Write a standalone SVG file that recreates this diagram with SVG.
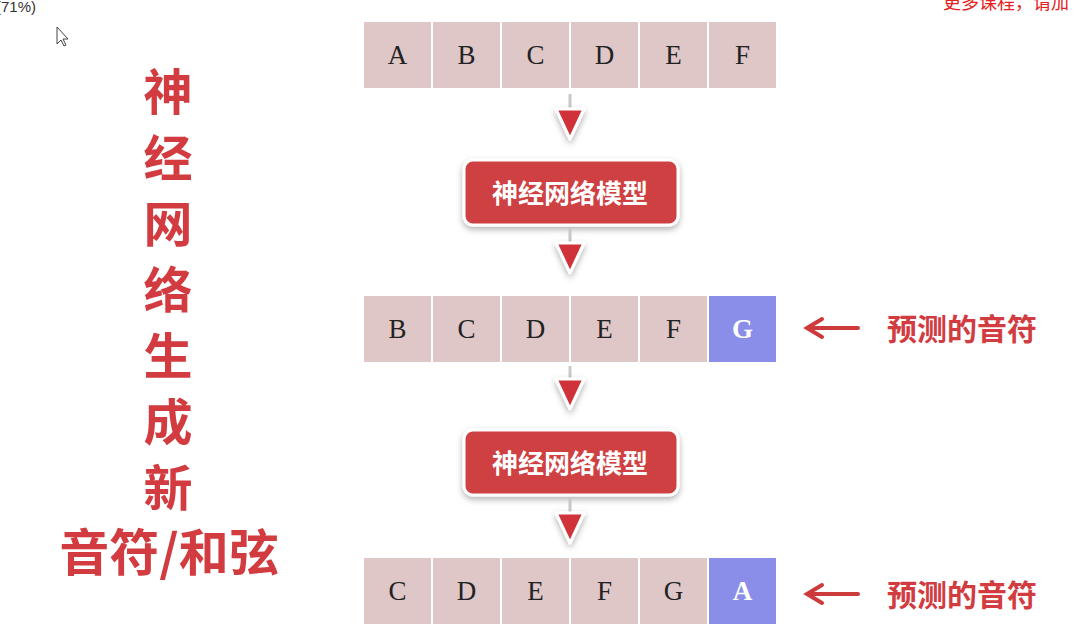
<svg xmlns="http://www.w3.org/2000/svg" width="1078" height="626" viewBox="0 0 1078 626">
<defs>
<style>
.cell{fill:#dfc7c8}
.hl{fill:#8a8ee8}
.lt{font-family:"Liberation Serif",serif;font-size:27px;fill:#222;text-anchor:middle}
.lw{font-family:"Liberation Serif",serif;font-size:27px;fill:#fff;font-weight:bold;text-anchor:middle}
.btn{fill:#cf3f42;stroke:#fff;stroke-width:3}
.bt{font-family:"Noto Sans CJK SC",sans-serif;font-size:26px;font-weight:bold;fill:#fff;text-anchor:middle}
.tri{fill:#cf3238;stroke:#fff;stroke-width:3;stroke-linejoin:round}
.stem{stroke:#c8c8c8;stroke-width:3}
.side{font-family:"Noto Sans CJK SC",sans-serif;font-size:49px;font-weight:bold;fill:#d23b3f;text-anchor:middle}
.pred{font-family:"Noto Sans CJK SC",sans-serif;font-size:30px;font-weight:bold;fill:#d23b3f}
.rarr{stroke:#cc3a3c;stroke-width:4;fill:none;stroke-linecap:round}
</style>
<filter id="sh" x="-20%" y="-30%" width="140%" height="170%">
<feDropShadow dx="0" dy="3" stdDeviation="3" flood-color="#000" flood-opacity="0.3"/>
</filter>
</defs>
<rect width="1078" height="626" fill="#fff"/>
<text x="-4" y="12" font-family="Liberation Sans,sans-serif" font-size="15" fill="#333">(71%)</text>
<text x="943" y="9" font-family="Noto Sans CJK SC,sans-serif" font-size="18" fill="#e52020">更多课程，请加</text>
<path d="M57,27 L57,44 L61,40 L64,46 L66,45 L63,39 L68,39 Z" fill="#fff" stroke="#444" stroke-width="1"/>

<g id="side-title">
<text class="side" x="168" y="110">神</text>
<text class="side" x="168" y="176">经</text>
<text class="side" x="168" y="242">网</text>
<text class="side" x="168" y="308">络</text>
<text class="side" x="168" y="374">生</text>
<text class="side" x="168" y="440">成</text>
<text class="side" x="168" y="506">新</text>
<text class="side" x="169" y="571" style="font-size:50px">音符/和弦</text>
</g>

<g id="row1">
<rect class="cell" x="364" y="22" width="67" height="66"/><text class="lt" x="397.5" y="64">A</text>
<rect class="cell" x="433" y="22" width="67" height="66"/><text class="lt" x="466.5" y="64">B</text>
<rect class="cell" x="502" y="22" width="67" height="66"/><text class="lt" x="535.5" y="64">C</text>
<rect class="cell" x="571" y="22" width="67" height="66"/><text class="lt" x="604.5" y="64">D</text>
<rect class="cell" x="640" y="22" width="67" height="66"/><text class="lt" x="673.5" y="64">E</text>
<rect class="cell" x="709" y="22" width="67" height="66"/><text class="lt" x="742.5" y="64">F</text>
</g>

<g id="model1">
<rect class="btn" x="464" y="160" width="214" height="65" rx="9" filter="url(#sh)"/>
<text class="bt" x="570" y="203">神经网络模型</text>
</g>

<g id="row2">
<rect class="cell" x="364" y="296" width="67" height="66"/><text class="lt" x="397.5" y="338">B</text>
<rect class="cell" x="433" y="296" width="67" height="66"/><text class="lt" x="466.5" y="338">C</text>
<rect class="cell" x="502" y="296" width="67" height="66"/><text class="lt" x="535.5" y="338">D</text>
<rect class="cell" x="571" y="296" width="67" height="66"/><text class="lt" x="604.5" y="338">E</text>
<rect class="cell" x="640" y="296" width="67" height="66"/><text class="lt" x="673.5" y="338">F</text>
<rect class="hl" x="709" y="296" width="67" height="66"/><text class="lw" x="742.5" y="338">G</text>
</g>

<g id="model2">
<rect class="btn" x="464" y="430" width="214" height="65" rx="9" filter="url(#sh)"/>
<text class="bt" x="570" y="473">神经网络模型</text>
</g>

<g id="row3">
<rect class="cell" x="364" y="558" width="67" height="66"/><text class="lt" x="397.5" y="600">C</text>
<rect class="cell" x="433" y="558" width="67" height="66"/><text class="lt" x="466.5" y="600">D</text>
<rect class="cell" x="502" y="558" width="67" height="66"/><text class="lt" x="535.5" y="600">E</text>
<rect class="cell" x="571" y="558" width="67" height="66"/><text class="lt" x="604.5" y="600">F</text>
<rect class="cell" x="640" y="558" width="67" height="66"/><text class="lt" x="673.5" y="600">G</text>
<rect class="hl" x="709" y="558" width="67" height="66"/><text class="lw" x="742.5" y="600">A</text>
</g>

<g id="label1">
<text class="pred" x="887" y="340">预测的音符</text>
</g>
<g id="label2">
<text class="pred" x="887" y="606">预测的音符</text>
</g>

<g id="connectors">
<line class="stem" x1="570" y1="94" x2="570" y2="110"/>
<path class="tri" d="M556,109 L584,109 L570,139 Z" filter="url(#sh)"/>
<line class="stem" x1="570" y1="228" x2="570" y2="244"/>
<path class="tri" d="M556,243 L584,243 L570,273 Z" filter="url(#sh)"/>
<line class="stem" x1="570" y1="366" x2="570" y2="380"/>
<path class="tri" d="M556,379 L584,379 L570,409 Z" filter="url(#sh)"/>
<line class="stem" x1="570" y1="498" x2="570" y2="514"/>
<path class="tri" d="M556,513 L584,513 L570,543 Z" filter="url(#sh)"/>
<path class="rarr" d="M858,328 L808,328 M822,319 L807,328 L822,337"/>
<path class="rarr" d="M858,594 L808,594 M822,585 L807,594 L822,603"/>
</g>
</svg>
